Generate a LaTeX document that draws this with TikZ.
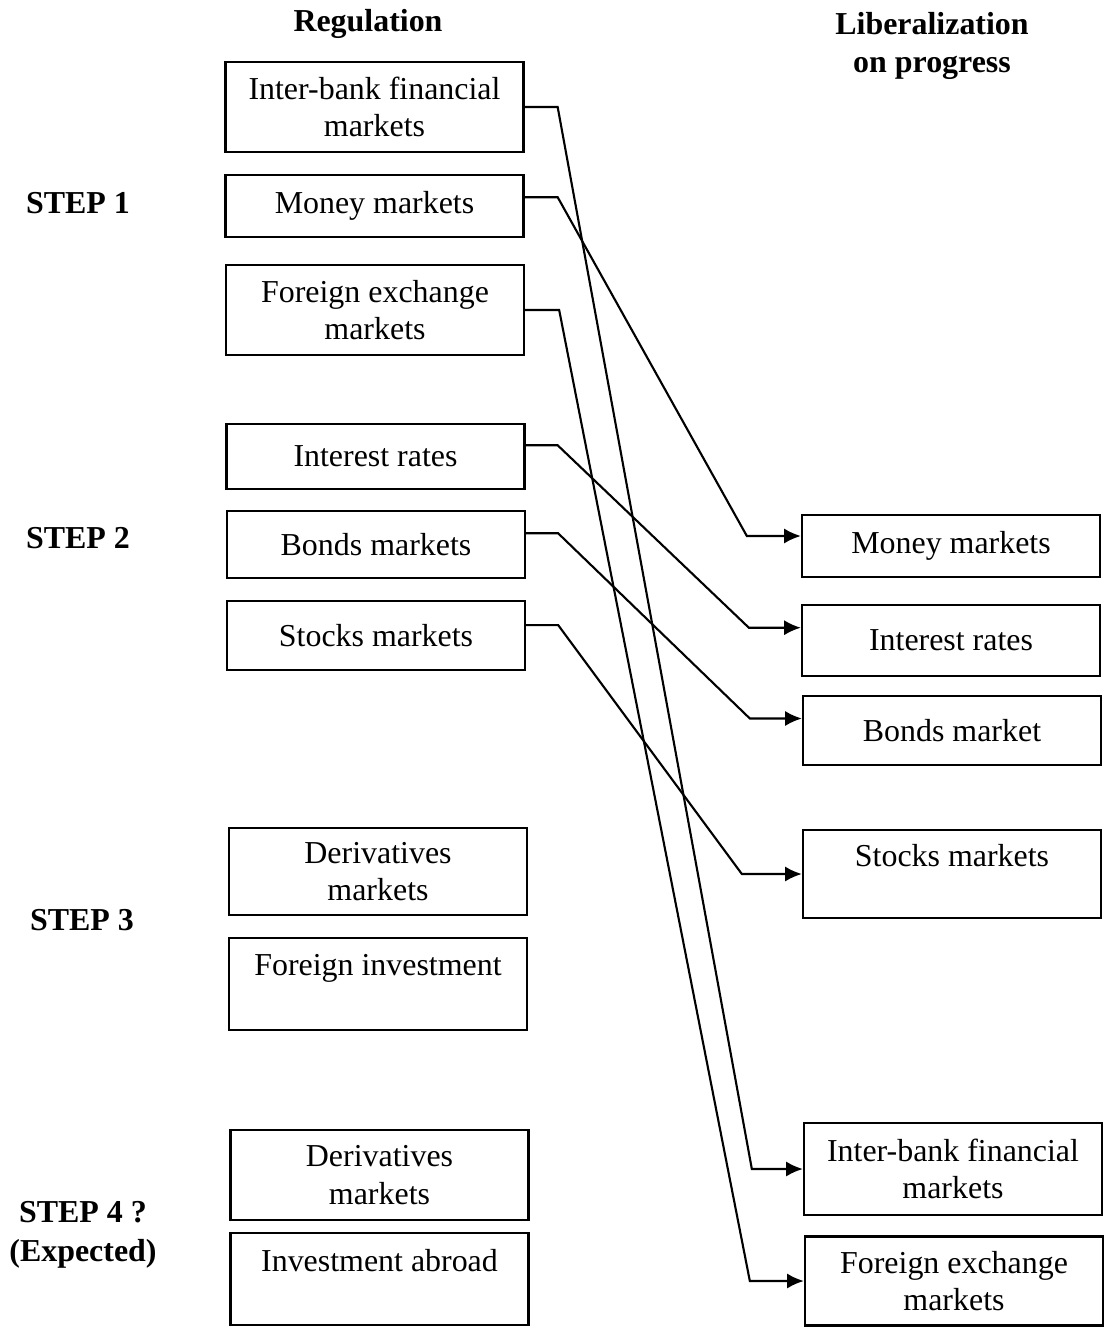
\documentclass[tikz,border=0pt]{standalone}
\usepackage{fontspec}
\setmainfont{Liberation Serif}
\usetikzlibrary{positioning,arrows.meta,calc}

\begin{document}
\begin{tikzpicture}[x=0.025cm, y=-0.025cm,
  every node/.style={font=\fontsize{22.7}{26.5}\selectfont},
  market/.style={rectangle, draw=black, line width=1.6pt, minimum width=7.45cm,
                 align=center, inner sep=2pt},
  heading/.style={font=\fontsize{22.7}{27.5}\selectfont\bfseries, align=center},
  shiftto/.style={-{Latex[length=0.42cm, width=0.38cm]}, line width=1.5pt, line join=miter}
]
  \useasboundingbox (0,0) rectangle (1104,1327);
  % headings and steps
  \node[heading] (reg)  at (368,24)  {Regulation};
  \node[heading] (lib)  at (932,46)  {Liberalization\\on progress};
  \node[heading] (st1)  at (78,203)  {STEP 1};
  \node[heading] (st2)  at (78,538)  {STEP 2};
  \node[heading] (st3)  at (82,920)  {STEP 3};
  \node[heading] (st4)  at (83,1235) {STEP 4 ?\\(Expected)};
  % regulated markets
  \node[market, minimum height=2.25cm] (reg1)  at (374.5,107)  {Inter-bank financial\\markets};
  \node[market, minimum height=1.55cm] (reg2)  at (374.5,206)  {Money markets};
  \node[market, minimum height=2.25cm] (reg3)  at (375,310)    {Foreign exchange\\markets};
  \node[market, minimum height=1.62cm] (reg4)  at (375.5,456.5) {Interest rates};
  \node[market, minimum height=1.67cm] (reg5)  at (376,544.5)  {Bonds markets};
  \node[market, minimum height=1.72cm] (reg6)  at (376,635.5)  {Stocks markets};
  \node[market, minimum height=2.18cm] (reg7)  at (378,871.5)  {Derivatives\\markets};
  \node[market, minimum height=2.3cm]  (reg8)  at (378,984)    {Foreign investment\\~};
  \node[market, minimum height=2.25cm] (reg9)  at (379.5,1175) {Derivatives\\markets};
  \node[market, minimum height=2.3cm]  (reg10) at (379.5,1279) {Investment abroad\\~};
  % liberalized markets
  \node[market, minimum height=1.55cm] (lib1) at (951,546)   {Money markets};
  \node[market, minimum height=1.77cm] (lib2) at (951,640.5) {Interest rates};
  \node[market, minimum height=1.72cm] (lib3) at (952,730.5) {Bonds market};
  \node[market, minimum height=2.2cm]  (lib4) at (952,874)   {Stocks markets\\~};
  \node[market, minimum height=2.3cm]  (lib5) at (953,1169)  {Inter-bank financial\\markets};
  \node[market, minimum height=2.22cm] (lib6) at (954,1281)  {Foreign exchange\\markets};
  % shifts
  \draw[shiftto] (reg1.east) -- ++(33,0) -- ($(lib5.west)+(-51,0)$) -- (lib5.west);
  \draw[shiftto] ([yshift=0.22cm]reg2.east) -- ++(33,0) -- ($([yshift=0.25cm]lib1.west)+(-54,0)$) -- ([yshift=0.25cm]lib1.west);
  \draw[shiftto] (reg3.east) -- ++(34,0) -- ($(lib6.west)+(-54,0)$) -- (lib6.west);
  \draw[shiftto] ([yshift=0.28cm]reg4.east) -- ++(32,0) -- ($([yshift=0.32cm]lib2.west)+(-52,0)$) -- ([yshift=0.32cm]lib2.west);
  \draw[shiftto] ([yshift=0.28cm]reg5.east) -- ++(32,0) -- ($([yshift=0.3cm]lib3.west)+(-52,0)$) -- ([yshift=0.3cm]lib3.west);
  \draw[shiftto] ([yshift=0.26cm]reg6.east) -- ++(32,0) -- ($(lib4.west)+(-60,0)$) -- (lib4.west);
\end{tikzpicture}
\end{document}
